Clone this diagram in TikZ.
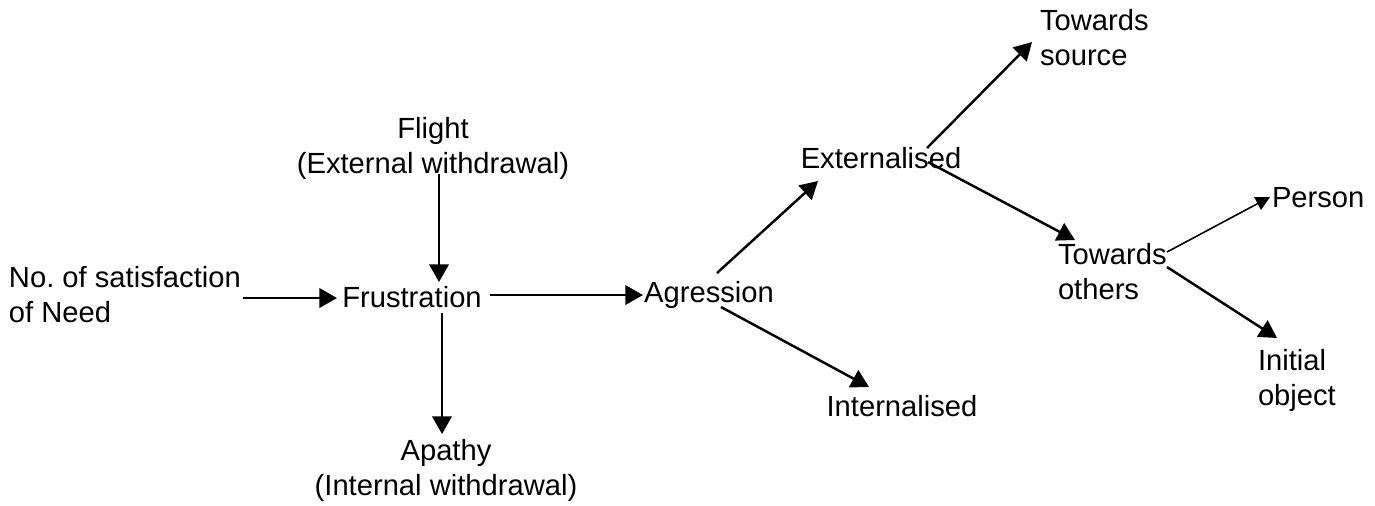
\documentclass[tikz,border=0pt]{standalone}
\usepackage{fontspec}
\setmainfont{Liberation Sans}
\usetikzlibrary{arrows.meta}
\frenchspacing
\tikzset{
  lbl/.style={inner sep=0pt, outer sep=0pt, font=\fontsize{16.6pt}{19.9pt}\selectfont},
  arr/.style={line width=1.4pt, -{Triangle[length=10pt,width=11pt]}},
  thinarr/.style={line width=0.9pt, -{Triangle[length=8pt,width=8pt]}}
}
\begin{document}
\begin{tikzpicture}[x=0.02cm,y=-0.02cm]
\useasboundingbox (0,0) rectangle (1375,505);
% nodes (base anchor = baseline of the last line)
\node[lbl, anchor=base west, align=left] (need) at (9,322) {No. of satisfaction\\of Need};
\node[lbl, anchor=base, align=center] (flight) at (433,173) {Flight\\(External withdrawal)};
\node[lbl, anchor=base] (frus) at (412,307) {Frustration};
\node[lbl, anchor=base, align=center] (apathy) at (446,495) {Apathy\\(Internal withdrawal)};
\node[lbl, anchor=base] (agr) at (709,302) {Agression};
\node[lbl, anchor=base] (ext) at (881,168) {Externalised};
\node[lbl, anchor=base] (int) at (902,416) {Internalised};
\node[lbl, anchor=base west, align=left] (src) at (1040,65) {Towards\\source};
\node[lbl, anchor=base west, align=left] (oth) at (1058,299) {Towards\\others};
\node[lbl, anchor=base west] (per) at (1272,207) {Person};
\node[lbl, anchor=base west, align=left] (ini) at (1258,405) {Initial\\object};
% connectors
\draw[arr] ([shift={(234,-24)}]need.base west) -- ([shift={(-75,-9)}]frus.base);
\draw[arr] ([shift={(6,1)}]flight.base) -- ([shift={(27,-25)}]frus.base);
\draw[arr] ([shift={(30,6)}]frus.base) -- ([shift={(-4,-61)}]apathy.base);
\draw[arr] ([shift={(78,-12)}]frus.base) -- ([shift={(-66,-7)}]agr.base);
\draw[arr] ([shift={(8,-29)}]agr.base) -- ([shift={(-63,13)}]ext.base);
\draw[arr] ([shift={(12,5)}]agr.base) -- ([shift={(-33,-29)}]int.base);
\draw[arr] ([shift={(46,-20)}]ext.base) -- ([shift={(-8,-23)}]src.base west);
\draw[arr] ([shift={(47,-6)}]ext.base) -- ([shift={(17,-59)}]oth.base west);
\draw[thinarr] ([shift={(109,-47)}]oth.base west) -- ([shift={(-2,-10)}]per.base west);
\draw[arr] ([shift={(109,-32)}]oth.base west) -- ([shift={(19,-67)}]ini.base west);
\end{tikzpicture}
\end{document}
